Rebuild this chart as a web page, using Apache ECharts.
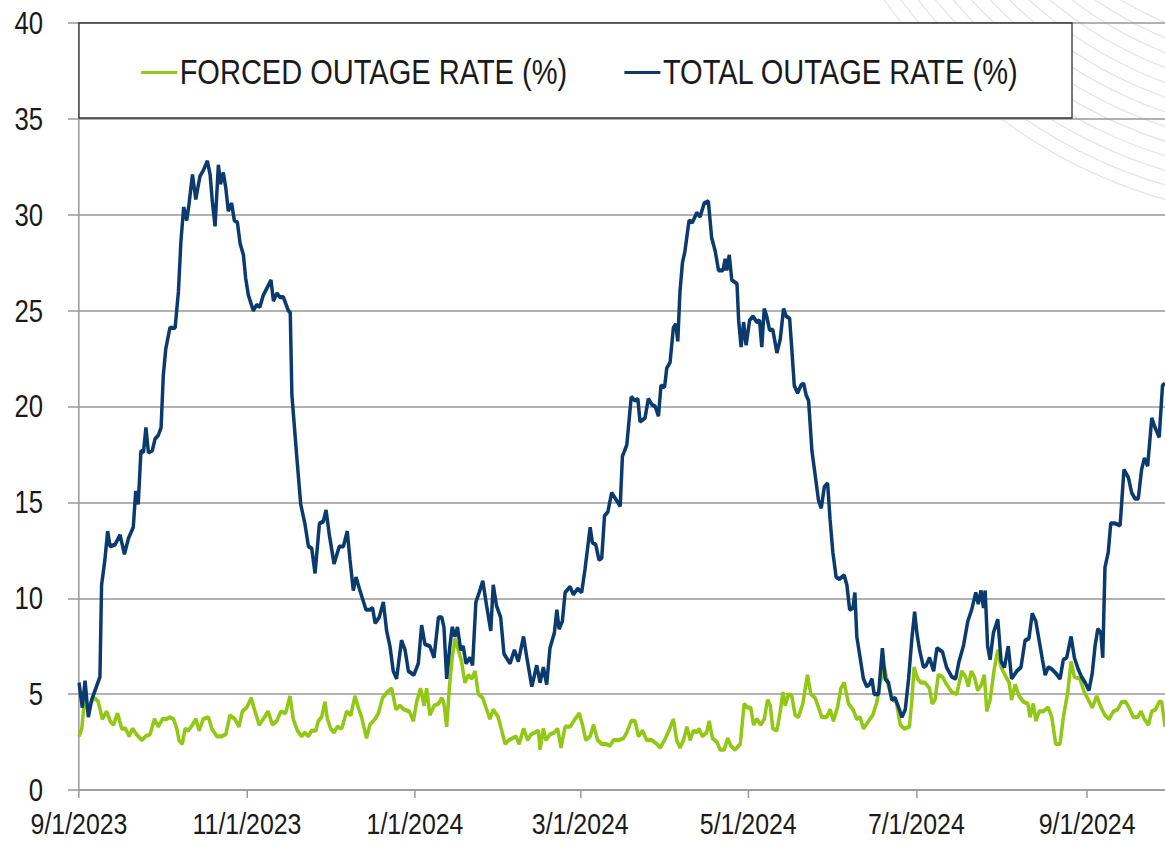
<!DOCTYPE html>
<html>
<head>
<meta charset="utf-8">
<script src="https://cdn.jsdelivr.net/npm/echarts@6/dist/echarts.min.js"></script>
<style>
  html, body { margin: 0; padding: 0; background: #fff; overflow: hidden; }
  #wrap { width: 1165px; height: 843px; overflow: hidden; }
  /* the source image is squeezed sideways, so the chart is drawn wider and squeezed the same way */
  #main { width: 1404px; height: 843px; transform: scaleX(0.82977); transform-origin: 0 0; }
</style>
</head>
<body>
<div id="wrap"><div id="main"></div></div>
<script>
// x values are days since 9/1/2023
var tickDays = [0, 61, 122, 182, 243, 304, 366];
var tickLabels = ['9/1/2023', '11/1/2023', '1/1/2024', '3/1/2024', '5/1/2024', '7/1/2024', '9/1/2024'];

var totalDays = [0,1.2,2.2,3.4,4.6,7.6,8.2,9.4,10.4,11.3,13.1,14.9,16.5,17.9,19.7,20.6,21.5,22.5,23.4,24.3,25.2,26.6,27.6,28.8,29.8,30.6,31.5,33,34.9,36.1,37,38,39.1,39.9,41.2,42.4,43.9,45.1,46.6,47.6,48.4,49.4,50.6,51.4,52.4,53.3,54.2,55.4,56.4,57.5,58.5,59.7,60.5,61.5,63.3,64.5,65.7,66.9,68.7,69.7,70.6,71.8,73,74.2,76,76.7,
  77.3,79,80.5,82,83.3,84.5,85.7,87.3,88.7,89.7,90.9,92.6,94.5,96,97.4,98.4,99.6,100.6,102,104.2,105.6,106.6,107.5,109,110.5,111.7,112.9,114.1,115.3,117.1,118.4,119.6,121.6,123.2,124.4,125.6,127.4,128.9,130.5,131.7,132.5,133.5,134.5,135.5,136.5,137.4,138.6,139.5,140.5,142,142.9,144.1,145.3,146.6,148,149.5,150.4,151.6,153.1,154.3,
  156.5,158.1,159.5,161.4,162.6,164.4,166.2,167.4,168.6,169.8,171,172.6,173.5,174.3,175.5,176.5,178.3,179.5,181.1,182.5,183.7,185.6,186.4,187.6,188.8,189.8,190.8,192,193.4,195.2,196.5,197.3,198.9,200.5,201.9,202.9,203.7,205.5,206.7,208,209.2,210.4,211.3,212.6,213.4,214.6,215.8,216.7,217.4,218.2,219.1,220,221.5,222.7,224.3,225.5,227,228.5,229.7,231,232.2,
  233.8,234.6,235.2,236.1,237,238.9,239.5,240.4,241.3,242.2,243.5,244.7,246.1,247.1,247.9,248.8,249.7,250.7,251.9,253.4,254.6,255.8,256.8,258,258.8,259.7,260.9,262.1,263.1,264,264.9,266.1,267.3,268.5,269.5,270.6,271.8,272.7,273.7,274.9,276.1,277.8,278.8,279.8,281,281.7,282.4,283.6,284.8,286,287,287.9,288.7,290.3,291.7,292.7,293.9,295.1,296.3,297.6,298.8,300,301.2,302.4,303.4,304.2,305.2,306.6,307.6,308.8,310.3,
  311.5,313.5,315,316.9,318.3,319.5,321.1,322.7,324.1,325.6,326.5,327.5,328.4,329,329.9,330.8,332,333.6,334.8,336,337.4,338.6,340.5,342,343.5,344.9,346.1,347.4,348.6,349.8,350.8,351.9,353.2,354.6,356.2,357.4,358.6,360.2,361.4,362.8,364,365.3,366.7,367.9,368.9,369.9,371,371.7,372.5,373.7,374.6,376.2,378,379.4,381,382.2,383.4,384.6,385.8,386.8,388,389.5,390.7,392.2,393.4,394.3];
var totalRate = [5.6,4.3,5.7,3.8,4.7,5.9,10.7,12.0,13.5,12.7,12.8,13.3,12.3,13.1,13.7,15.6,14.9,17.7,17.6,18.9,17.6,17.7,18.3,18.5,18.9,21.6,23.0,24.1,24.1,26.0,28.6,30.4,29.7,30.5,32.1,30.8,32.0,32.3,32.8,32.1,30.7,29.4,32.6,31.6,32.2,31.4,30.2,30.6,29.7,29.6,28.5,27.9,26.7,25.8,25.0,25.3,25.2,25.8,26.3,26.6,25.5,25.9,25.7,25.7,25.0,24.9,
  20.6,17.5,14.9,13.9,12.7,12.6,11.3,13.9,14.0,14.6,13.3,11.8,12.7,12.7,13.5,12.0,10.4,11.1,10.4,9.4,9.4,9.5,8.7,9.0,9.8,8.3,7.5,6.2,5.8,7.8,7.3,6.2,6.0,6.6,8.6,7.6,7.5,6.9,9.0,9.0,8.5,5.8,7.3,8.5,8.0,8.5,7.3,7.5,6.6,6.9,6.5,9.8,10.3,10.9,9.6,8.3,10.7,9.6,9.0,7.1,
  6.6,7.3,6.7,8.0,6.9,5.4,6.5,5.6,6.4,5.5,7.4,8.2,9.4,8.4,8.8,10.3,10.6,10.2,10.5,10.3,11.5,13.7,12.9,12.8,12.0,12.1,14.3,14.5,15.5,15.1,14.8,17.4,18.0,20.5,20.3,20.4,19.2,19.4,20.4,20.1,20.0,19.5,21.1,21.0,22.0,22.3,24.1,24.3,23.4,26.0,27.5,28.1,29.7,29.6,30.1,29.9,30.6,30.7,28.8,28.1,27.1,
  27.1,27.7,27.1,27.9,26.6,26.4,24.5,23.1,24.4,23.2,24.5,24.7,24.4,24.5,23.1,25.1,24.7,24.0,24.0,22.8,23.5,25.1,24.7,24.6,23.0,21.1,20.7,21.1,21.2,20.6,20.3,17.7,16.4,15.1,14.7,15.8,16.0,14.1,12.4,11.1,11.0,11.2,10.7,9.4,9.5,10.3,8.0,6.9,5.8,5.4,5.5,5.8,5.0,5.0,7.4,5.8,5.6,4.7,4.8,4.3,3.8,4.2,5.8,7.9,9.3,8.2,7.3,6.4,6.5,6.9,6.2,
  7.4,7.2,6.4,5.9,5.8,6.7,7.5,8.8,9.4,10.3,9.7,10.4,9.5,10.4,7.5,6.8,8.2,8.9,6.7,6.4,7.5,5.8,6.2,6.4,7.8,7.9,9.2,8.8,7.8,6.8,6.0,6.4,6.3,6.1,5.8,6.8,6.9,8.0,6.9,6.3,5.9,5.6,5.2,6.1,7.5,8.4,8.2,6.9,11.6,12.4,13.9,13.9,13.8,16.7,16.3,15.5,15.2,15.2,16.7,17.3,16.9,19.4,18.9,18.4,21.1,21.2];

var forcedDays = [0,1,2,3.1,4.4,5.8,7,8.5,10,11.3,12.5,14,15.5,16.9,18.2,19.4,20.9,22.8,24.2,25.8,27.4,28.8,30.3,31.8,33,34.3,35.5,36.3,37.5,38.5,39.7,41.2,42.4,43.6,45.1,47,48.2,50,51.8,53.3,54.8,56.6,58.1,59.3,60.9,62.5,63.7,65.4,66.9,68.7,70.2,71.8,73.3,75,76.6,
  77.8,79.3,80.8,82,83.3,84.5,86,86.9,88.1,89.3,90.2,91.4,92.6,93.8,95.4,97.2,98.7,100.2,101.4,102.6,104.4,105.6,107.5,108.7,110.2,111.9,113.5,115.1,116.5,118,119.9,121.4,122.6,124,125.3,126.2,127.4,128.9,130.5,131.7,132.5,133.5,134.5,135.5,136.5,137.7,138.9,140.1,141.4,142.6,143.8,145,146.6,148,149.2,150.4,152.2,153.5,154.7,
  156.1,157.4,158.6,159.8,161.4,162.9,164.1,165.6,166.8,167.4,168.6,169.5,171,172.6,173.8,175,176.5,178.3,180.1,181.6,182.8,184,185.6,186.8,188.3,189.8,191.3,192.8,194,195.9,197.7,198.9,200.5,201.9,203.1,204.6,206.1,208,209.8,211,212.6,214.2,215.8,217,218.2,219.5,220.7,221.9,223.1,224.3,225.1,226.3,227.9,228.8,230,231.6,232.8,
  234.3,235.5,236.7,238.2,240.1,241.5,242.7,243.9,244.9,246.1,247.6,248.8,250,251,251.9,253.4,254.6,255.6,256.4,257.6,258.8,260,261.2,262.8,264.5,265.7,267.3,268.5,269.7,271.5,272.7,273.9,275.4,276.6,277.8,279.4,281,282.4,283.6,284.8,286.7,288.2,289.7,290.9,292.4,293.9,295.5,296.7,298.2,299.6,301.5,302.4,303.2,304.5,305.7,307.2,308.8,309.7,
  310.8,312,313.5,315,316.9,318.7,320.5,321.9,322.9,323.9,325.1,326.3,327.7,328.7,329.6,330.8,332.3,333.6,334.8,336.2,337.7,338.6,339.9,341.3,342.9,344.5,345.3,346.5,347.4,348.6,350.1,351.9,353.2,354.6,356.2,357.4,359,360.2,361.4,363.4,365,366.5,367.9,369.5,371.1,372.5,374,375.6,377.1,378.6,380,381.2,382.8,384.4,385.6,386.8,388.3,389.5,390.9,392.2,393.1,394.3];
var forcedRate = [2.8,3.2,4.7,4.2,4.6,4.8,4.6,3.7,4.1,3.6,3.4,4.0,3.2,3.2,2.8,3.2,2.9,2.6,2.8,2.9,3.7,3.3,3.7,3.7,3.8,3.7,3.2,2.6,2.4,3.2,3.1,3.4,3.7,3.1,3.7,3.8,3.2,2.8,2.8,2.9,3.9,3.7,3.3,4.1,4.3,4.8,4.2,3.4,3.7,4.1,3.4,3.6,4.1,4.0,4.9,
  3.7,3.1,2.8,3.0,2.8,3.1,3.1,3.6,3.8,4.6,3.7,3.2,3.0,3.3,3.2,4.1,3.9,4.9,4.3,3.8,2.7,3.4,3.7,4.0,4.8,5.1,5.3,4.2,4.4,4.2,4.1,3.6,4.6,5.3,4.4,5.3,3.9,4.4,4.5,4.8,4.5,3.3,5.4,6.9,7.9,7.3,6.7,5.6,6.0,5.8,6.2,5.0,4.8,4.2,3.7,4.2,3.8,3.1,2.4,
  2.6,2.7,2.8,2.4,3.2,2.6,2.9,3.0,3.1,2.1,3.2,2.6,2.9,3.0,3.2,2.2,3.3,3.3,3.7,4.0,3.4,2.6,2.8,3.4,2.6,2.4,2.4,2.3,2.6,2.6,2.7,3.0,3.6,3.6,2.8,3.1,2.6,2.6,2.4,2.2,2.6,3.1,3.7,2.6,2.2,2.6,3.3,2.6,3.1,3.0,3.2,2.8,3.0,3.6,2.7,2.5,2.1,
  2.1,2.7,2.3,2.1,2.4,4.5,4.3,4.3,3.4,3.7,3.4,3.7,4.7,4.4,3.2,3.1,4.1,5.1,4.4,5.0,4.9,3.9,3.8,4.5,6.0,5.0,4.8,4.3,3.8,3.8,4.2,3.6,4.3,5.3,5.6,4.5,4.2,3.7,3.8,3.2,3.6,3.9,4.6,5.6,6.4,5.4,4.7,4.6,3.4,3.2,3.3,4.7,6.4,5.8,5.6,5.6,5.3,4.5,
  4.7,6.0,5.9,5.5,5.1,5.0,6.2,5.9,5.4,6.2,5.9,5.2,5.5,6.0,4.1,4.7,6.3,7.3,6.4,6.0,5.6,4.7,5.5,4.9,4.6,4.5,3.8,4.5,3.6,4.1,4.1,4.3,3.8,2.4,2.4,3.8,5.1,6.7,5.9,5.8,5.1,4.7,4.3,4.9,4.3,3.9,3.7,4.1,4.2,4.6,4.6,4.3,3.8,3.8,4.1,3.7,3.4,4.1,4.2,4.6,4.6,3.3];

function pairs(xs, ys) {
  return xs.map(function (x, i) { return [x, ys[i]]; });
}

var k = 0.82977;          // sideways squeeze of the page
function sx(px) { return px / k; }   // screen px -> chart px (horizontal)

var font = "'Liberation Sans', Arial, sans-serif";
var myChart = echarts.init(document.getElementById('main'), null, { renderer: 'svg' });

// faint background rings in the top right corner
var rings = [];
for (var r = 380; r <= 560; r += 14) {
  rings.push({
    type: 'ellipse',
    z: 0,
    silent: true,
    shape: { cx: sx(1300), cy: -330, rx: sx(r * 0.95), ry: r },
    style: { fill: null, stroke: '#e4e4e4', lineWidth: 1.3 }
  });
}

var option = {
  animation: false,
  backgroundColor: '#ffffff',
  grid: { left: sx(79), right: 0, top: 23, bottom: 53 },
  graphic: rings.concat([{
    type: 'rect',
    z: 3,
    shape: { x: sx(79), y: 23, width: sx(993), height: 95 },
    style: { fill: '#ffffff', stroke: '#333333', lineWidth: 1.6 }
  }]),
  legend: {
    z: 10,
    left: sx(137),
    top: 50,
    itemWidth: sx(36),
    itemHeight: 3,
    itemGap: sx(57),
    icon: 'rect',
    textStyle: { fontFamily: font, fontSize: 35, color: '#1a1a1a', padding: [0, 0, 0, -2] },
    data: ['FORCED OUTAGE RATE (%)', 'TOTAL OUTAGE RATE (%)']
  },
  xAxis: {
    type: 'value',
    min: 0,
    max: 394.3,
    splitLine: { show: false },
    axisLine: { show: true, lineStyle: { color: '#999999', width: 1.5 } },
    axisTick: { show: true, customValues: tickDays, length: 8, lineStyle: { color: '#999999', width: 1.8 } },
    axisLabel: {
      customValues: tickDays,
      margin: 19,
      fontFamily: font,
      fontSize: 30,
      color: '#1a1a1a',
      formatter: function (v) {
        var i = tickDays.indexOf(v);
        return i >= 0 ? tickLabels[i] : '';
      }
    }
  },
  yAxis: {
    type: 'value',
    min: 0,
    max: 40,
    interval: 5,
    axisLine: { show: true, lineStyle: { color: '#999999', width: 1.8 } },
    axisTick: { show: true, length: sx(11), lineStyle: { color: '#999999', width: 1.5 } },
    splitLine: { lineStyle: { color: '#999999', width: 1.5 } },
    axisLabel: { margin: sx(36), fontFamily: font, fontSize: 31, color: '#1a1a1a' }
  },
  series: [
    {
      name: 'FORCED OUTAGE RATE (%)',
      type: 'line',
      showSymbol: false,
      z: 2,
      data: pairs(forcedDays, forcedRate),
      lineStyle: { color: '#92c814', width: 4.2 },
      itemStyle: { color: '#92c814' }
    },
    {
      name: 'TOTAL OUTAGE RATE (%)',
      type: 'line',
      showSymbol: false,
      z: 3,
      data: pairs(totalDays, totalRate),
      lineStyle: { color: '#0b3b6e', width: 4.2 },
      itemStyle: { color: '#0b3b6e' }
    }
  ]
};

myChart.setOption(option);
</script>
</body>
</html>
